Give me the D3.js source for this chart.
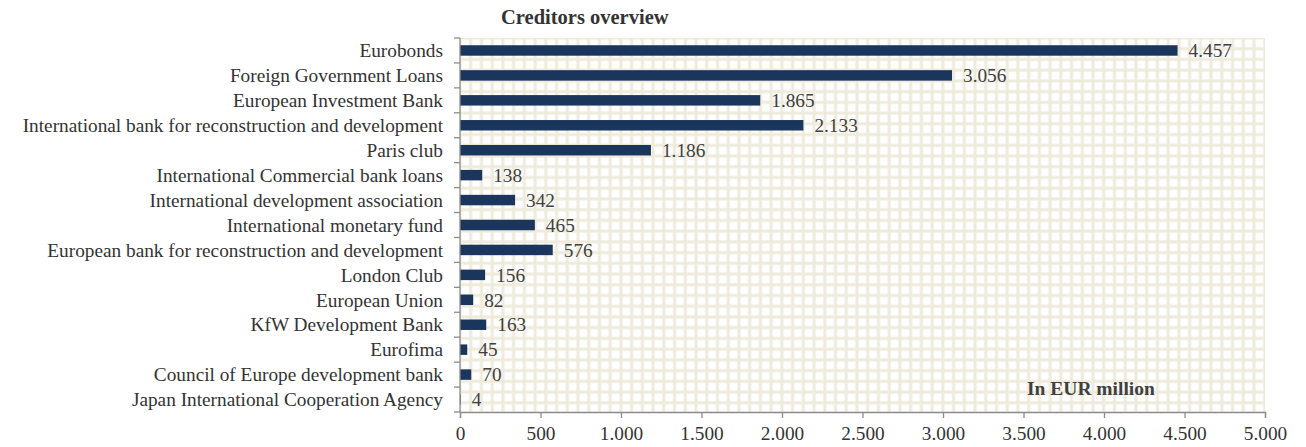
<!DOCTYPE html>
<html><head><meta charset="utf-8">
<script src="https://cdn.jsdelivr.net/npm/d3@7"></script>
<style>body{margin:0;background:#fff}</style>
</head><body>
<svg id="c" width="1306" height="447"></svg>
<script>
const categories = ["Eurobonds","Foreign Government Loans","European Investment Bank","International bank for reconstruction and development","Paris club","International Commercial bank loans","International development association","International monetary fund","European bank for reconstruction and development","London Club","European Union","KfW Development Bank","Eurofima","Council of Europe development bank","Japan International Cooperation Agency"];
const values = [4457,3056,1865,2133,1186,138,342,465,576,156,82,163,45,70,4];
const xTicks = [0,500,1000,1500,2000,2500,3000,3500,4000,4500,5000];

const svg = d3.select("#c");
const m = {l:460, r:1265, t:38, b:412};
const fmt = v => d3.format(",")(v).replace(/,/g,".");
const x = d3.scaleLinear().domain([0,5000]).range([m.l,m.r]);
const y = d3.scaleBand().domain(categories).range([m.t,m.b]).paddingInner(0.58).paddingOuter(0.29);

const defs = svg.append("defs");
const p = defs.append("pattern").attr("id","grid").attr("patternUnits","userSpaceOnUse")
  .attr("width",10.73).attr("height",10.73).attr("x",m.l).attr("y",m.t);
p.append("rect").attr("width",10.73).attr("height",10.73).attr("fill","#efebdc");
p.append("rect").attr("x",1.5).attr("y",1.5).attr("width",7.7).attr("height",7.7).attr("fill","#ffffff");
svg.append("rect").attr("x",m.l).attr("y",m.t).attr("width",m.r-m.l).attr("height",m.b-m.t).attr("fill","url(#grid)");

const font = "'Liberation Serif', 'Times New Roman', serif";
const fs = 19.3;

svg.selectAll("rect.bar").data(values).enter().append("rect").attr("class","bar")
  .attr("x",x(0)).attr("y",(d,i)=>y(categories[i]))
  .attr("width",d=>x(d)-x(0)).attr("height",y.bandwidth()).attr("fill","#1b365d");

svg.selectAll("text.val").data(values).enter().append("text").attr("class","val")
  .attr("x",d=>x(d)+11).attr("y",(d,i)=>y(categories[i])+y.bandwidth()/2)
  .attr("dy","0.35em").attr("font-family",font).attr("font-size",fs).attr("fill","#404040")
  .text(d=>fmt(d));

// y axis
const yg = svg.append("g");
yg.append("line").attr("x1",m.l).attr("x2",m.l).attr("y1",m.t).attr("y2",m.b).attr("stroke","#8c8c8c").attr("stroke-width",1.3);
d3.range(categories.length+1).forEach(i=>{
  const yy = m.t + i*(m.b-m.t)/categories.length;
  yg.append("line").attr("x1",m.l-6).attr("x2",m.l).attr("y1",yy).attr("y2",yy).attr("stroke","#8c8c8c").attr("stroke-width",1.3);
});
yg.selectAll("text").data(categories).enter().append("text")
  .attr("x",m.l-17).attr("y",d=>y(d)+y.bandwidth()/2).attr("dy","0.35em")
  .attr("text-anchor","end").attr("font-family",font).attr("font-size",fs).attr("fill","#333333").text(d=>d);

// x axis
const xa = d3.axisBottom(x).tickValues(xTicks).tickSize(6).tickFormat(fmt);
const xg = svg.append("g").attr("transform",`translate(0,${m.b})`).call(xa);
xg.select(".domain").attr("stroke","#8c8c8c").attr("stroke-width",1.3);
xg.selectAll(".tick line").attr("stroke","#8c8c8c").attr("stroke-width",1.3);
xg.selectAll(".tick text").attr("font-family",font).attr("font-size",fs).attr("fill","#333333").attr("dy",null).attr("y",28);

svg.append("text").attr("x",501).attr("y",24).attr("font-family",font).attr("font-size",20.5)
  .attr("font-weight","bold").attr("fill","#333333").text("Creditors overview");
svg.append("text").attr("x",1027).attr("y",395).attr("font-family",font).attr("font-size",19.5)
  .attr("font-weight","bold").attr("fill","#404040").text("In EUR million");
</script>
</body></html>
